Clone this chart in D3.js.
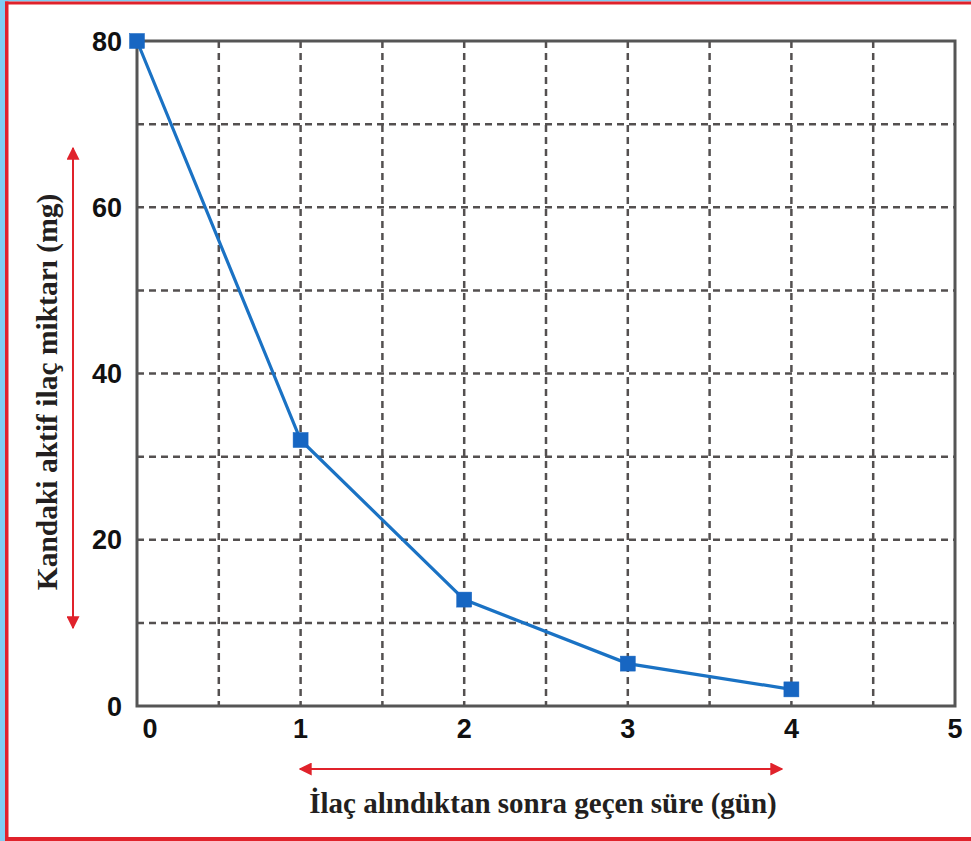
<!DOCTYPE html>
<html><head><meta charset="utf-8">
<script src="https://cdn.jsdelivr.net/npm/d3@7"></script>
<style>
html,body{margin:0;padding:0;background:#fff;}
svg{display:block;}
</style></head>
<body>
<svg id="c" width="971" height="841"></svg>
<script>
const days = [0, 1, 2, 3, 4];
const amounts = [80, 32, 12.8, 5.1, 2];
const xTicks = [0, 1, 2, 3, 4, 5];
const yTicks = [0, 20, 40, 60, 80];
const xGrid = [0.5, 1, 1.5, 2, 2.5, 3, 3.5, 4, 4.5];
const yGrid = [10, 20, 30, 40, 50, 60, 70];
const yTitle = "Kandaki aktif ilaç miktarı (mg)";
const xTitle = "İlaç alındıktan sonra geçen süre (gün)";

const svg = d3.select("#c");
const W = 971, H = 841;
const m = {l: 137, r: 955, t: 41, b: 706};
const x = d3.scaleLinear().domain([0, 5]).range([m.l, m.r]);
const y = d3.scaleLinear().domain([0, 80]).range([m.b, m.t]);

// frame
svg.append("rect").attr("x",0).attr("y",0).attr("width",W).attr("height",H).attr("fill","#fff");
svg.append("rect").attr("x",0).attr("y",0).attr("width",5).attr("height",H).attr("fill","#80cdf2");
svg.append("rect").attr("x",0).attr("y",0).attr("width",W).attr("height",1.5).attr("fill","#80cdf2");
const red = "#e0222b";
svg.append("rect").attr("x",5).attr("y",1.5).attr("width",3.5).attr("height",H).attr("fill",red);
svg.append("rect").attr("x",5).attr("y",1.5).attr("width",W).attr("height",3).attr("fill",red);
svg.append("rect").attr("x",5).attr("y",H-4).attr("width",W).attr("height",4).attr("fill",red);

const grid = "#545050";
// grid
svg.append("g").selectAll("line").data(xGrid).join("line")
  .attr("x1", d=>x(d)).attr("x2", d=>x(d)).attr("y1", m.t).attr("y2", m.b)
  .attr("stroke", grid).attr("stroke-width", 2.5).attr("stroke-dasharray","7,5");
svg.append("g").selectAll("line").data(yGrid).join("line")
  .attr("y1", d=>y(d)).attr("y2", d=>y(d)).attr("x1", m.l).attr("x2", m.r)
  .attr("stroke", grid).attr("stroke-width", 2.5).attr("stroke-dasharray","7,5");

// box
svg.append("rect").attr("x", m.l).attr("y", m.t).attr("width", m.r-m.l).attr("height", m.b-m.t)
  .attr("fill","none").attr("stroke","#555").attr("stroke-width",3);

// tick labels
svg.append("g").selectAll("text").data(yTicks).join("text")
  .attr("x", m.l-15).attr("y", d=>y(d)).attr("dy","0.36em")
  .attr("text-anchor","end").attr("font-family","Liberation Sans, Arial, sans-serif")
  .attr("font-weight","bold").attr("font-size",27).attr("fill","#111").text(d=>d);
svg.append("g").selectAll("text").data(xTicks).join("text")
  .attr("x", d=>x(d)).attr("dx", d=> d===0 ? 13 : 0).attr("y", m.b+32)
  .attr("text-anchor","middle").attr("font-family","Liberation Sans, Arial, sans-serif")
  .attr("font-weight","bold").attr("font-size",27).attr("fill","#111").text(d=>d);

// line
const blue = "#1a72c4";
const pts = days.map((d,i)=>[d, amounts[i]]);
svg.append("path").datum(pts)
  .attr("d", d3.line().x(d=>x(d[0])).y(d=>y(d[1])))
  .attr("fill","none").attr("stroke", blue).attr("stroke-width",3.2);
svg.append("g").selectAll("rect").data(pts).join("rect")
  .attr("x", d=>x(d[0])-7.5).attr("y", d=>y(d[1])-7.5).attr("width",15).attr("height",15)
  .attr("fill","#1766c2").attr("stroke","#1766c2").attr("stroke-width",0.5);

// arrows
const defs = svg.append("defs");
defs.append("marker").attr("id","ah").attr("viewBox","0 0 10 10").attr("refX",9).attr("refY",5)
  .attr("markerWidth",6.5).attr("markerHeight",6.5).attr("markerUnits","strokeWidth").attr("orient","auto-start-reverse")
  .append("path").attr("d","M0,0 L10,5 L0,10 z").attr("fill",red);
svg.append("line").attr("x1",73).attr("x2",73).attr("y1",148).attr("y2",628)
  .attr("stroke",red).attr("stroke-width",2)
  .attr("marker-start","url(#ah)").attr("marker-end","url(#ah)");
svg.append("line").attr("x1",300).attr("x2",782).attr("y1",769).attr("y2",769)
  .attr("stroke",red).attr("stroke-width",2)
  .attr("marker-start","url(#ah)").attr("marker-end","url(#ah)");

// titles
svg.append("text").attr("transform","translate(57,392) rotate(-90)")
  .attr("text-anchor","middle").attr("font-family","Liberation Serif, Times New Roman, serif")
  .attr("font-weight","bold").attr("font-size",29.5).attr("fill","#231f20").text(yTitle);
svg.append("text").attr("x",543).attr("y",813)
  .attr("text-anchor","middle").attr("font-family","Liberation Serif, Times New Roman, serif")
  .attr("font-weight","bold").attr("font-size",29).attr("fill","#231f20").text(xTitle);
</script>
</body></html>
